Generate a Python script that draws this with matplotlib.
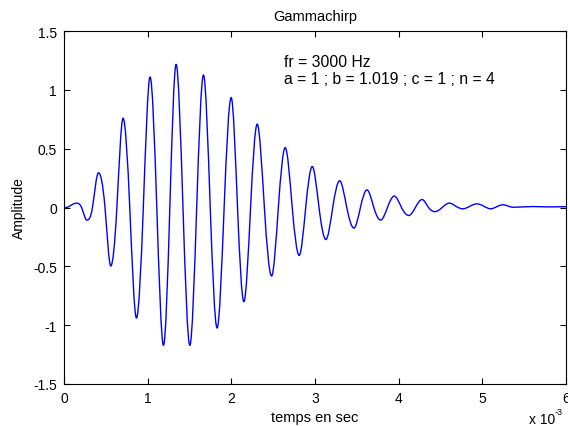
import numpy as np
import matplotlib
matplotlib.use("Agg")
import matplotlib.pyplot as plt
from matplotlib.path import Path
from matplotlib.patches import PathPatch
from matplotlib.ticker import FuncFormatter, FixedLocator

plt.rcParams['font.family'] = ['Liberation Sans', 'DejaVu Sans']
plt.rcParams['axes.unicode_minus'] = False

# Values: time (ms) and amplitude at extrema / zero crossings
time_ms = [0.000, 0.050, 0.148, 0.210, 0.275, 0.340, 0.412, 0.490, 0.559, 0.632,
           0.706, 0.786, 0.866, 0.948, 1.029, 1.109, 1.189, 1.265, 1.340, 1.422,
           1.504, 1.586, 1.667, 1.748, 1.830, 1.914, 1.998, 2.074, 2.150, 2.230,
           2.309, 2.395, 2.481, 2.562, 2.644, 2.728, 2.811, 2.889, 2.967, 3.048,
           3.130, 3.212, 3.294, 3.380, 3.465, 3.543, 3.621, 3.703, 3.785, 3.866,
           3.947, 4.034, 4.120, 4.200, 4.279, 4.357, 4.434, 4.520, 4.605, 4.685,
           4.766, 4.850, 4.933, 5.020, 5.100, 5.170, 5.245, 5.370, 5.600, 5.800,
           6.000]
amplitude = [0.000, 0.005, 0.037, 0.000, -0.107, 0.000, 0.295, 0.000, -0.497, 0.000,
             0.759, 0.000, -0.939, 0.000, 1.109, 0.000, -1.171, 0.000, 1.217, 0.000,
             -1.171, 0.000, 1.126, 0.000, -1.024, 0.000, 0.934, 0.000, -0.800, 0.000,
             0.708, 0.000, -0.582, 0.000, 0.509, 0.000, -0.407, 0.000, 0.348, 0.000,
             -0.272, 0.000, 0.227, 0.000, -0.175, 0.000, 0.150, 0.000, -0.107, 0.000,
             0.097, 0.000, -0.068, 0.000, 0.068, 0.000, -0.035, 0.000, 0.037, 0.010,
             -0.011, 0.010, 0.031, 0.010, -0.011, 0.006, 0.023, 0.002, 0.008, 0.005,
             0.007]

x_ticks = [0, 1, 2, 3, 4, 5, 6]
y_ticks = [-1.5, -1, -0.5, 0, 0.5, 1, 1.5]
title = "Gammachirp"
xlabel = "temps en sec"
ylabel = "Amplitude"
note = "fr = 3000 Hz\na = 1 ; b = 1.019 ; c = 1 ; n = 4"

x = np.array(time_ms)
y = np.array(amplitude)
n = len(x)

# tangents for a smooth (Bezier) rendering of the curve through the read points
m = np.zeros(n)
for i in range(1, n - 1):
    if (y[i] - y[i-1]) * (y[i+1] - y[i]) <= 0:
        m[i] = 0.0
    else:
        m[i] = 1.5 * (y[i+1] - y[i-1]) / (x[i+1] - x[i-1])

verts = [(x[0] * 1e-3, y[0])]
codes = [Path.MOVETO]
for i in range(n - 1):
    dx = x[i+1] - x[i]
    p1 = ((x[i] + dx / 3) * 1e-3, y[i] + m[i] * dx / 3)
    p2 = ((x[i+1] - dx / 3) * 1e-3, y[i+1] - m[i+1] * dx / 3)
    p3 = (x[i+1] * 1e-3, y[i+1])
    verts += [p1, p2, p3]
    codes += [Path.CURVE4] * 3

fig = plt.figure(figsize=(5.68, 4.27), dpi=100)
ax = fig.add_axes([64/568, 1-385/427, (566-64)/568, (385-32)/427])
ax.add_patch(PathPatch(Path(verts, codes), fill=False, edgecolor='#0000ff',
                       linewidth=1.0, transform=ax.transData))

ax.set_xlim(0, 6e-3)
ax.set_ylim(-1.5, 1.5)
ax.xaxis.set_major_locator(FixedLocator([v * 1e-3 for v in x_ticks]))
ax.xaxis.set_major_formatter(FuncFormatter(lambda v, p: f"{v*1e3:g}"))
ax.yaxis.set_major_locator(FixedLocator(y_ticks))
ax.yaxis.set_major_formatter(FuncFormatter(lambda v, p: f"{v:g}"))
ax.tick_params(direction='in', top=True, right=True, length=4, width=0.8,
               labelsize=10, pad=5)
for s in ax.spines.values():
    s.set_linewidth(0.8)

ax.set_title(title, fontsize=10.5, pad=8)
ax.set_xlabel(xlabel, fontsize=10.5, labelpad=4)
ax.set_ylabel(ylabel, fontsize=10, labelpad=5)
ax.text((284-64)/502, 1-(55-32)/353, note, transform=ax.transAxes, fontsize=11.3,
        va='top', ha='left', linespacing=1.2)
fig.text(529/568, 1-420/427, "x 10", fontsize=10, ha='left', va='center')
fig.text(555/568, 1-413/427, "-3", fontsize=6.5, ha='left', va='center')

fig.savefig("out.png", dpi=100)
